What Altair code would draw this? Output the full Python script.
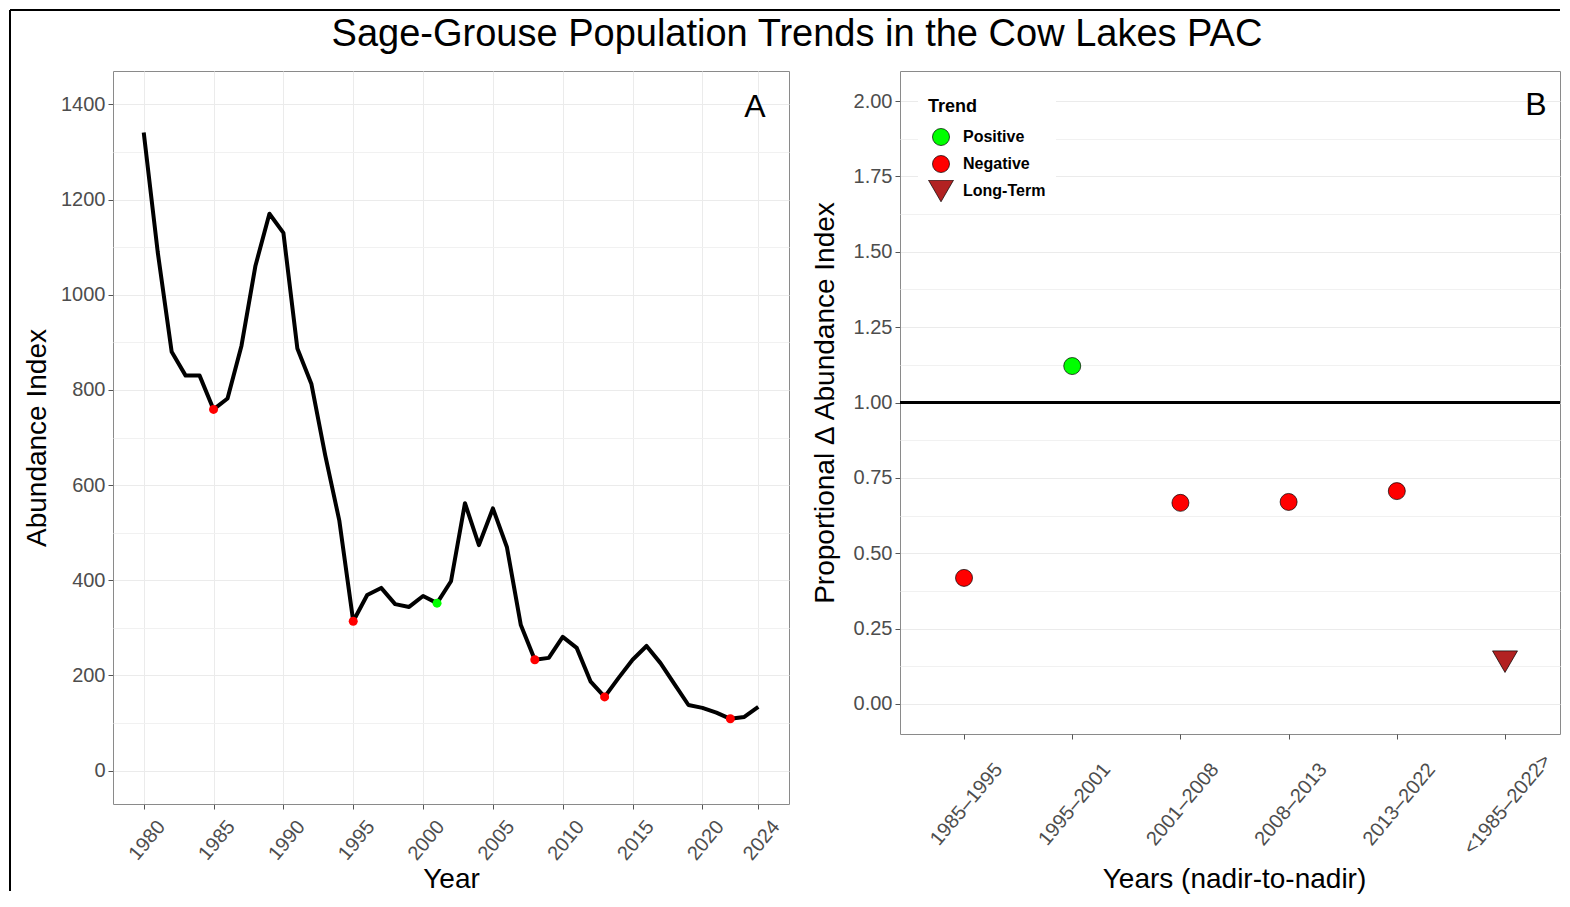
import altair as alt
import pandas as pd

# ---------------- data ----------------
years = list(range(1980, 2025))
abundance = [1341, 1090, 880, 830, 830, 759, 782, 893, 1061, 1170,
             1130, 887, 813, 662, 526, 314, 369, 384, 350, 344,
             367, 352, 398, 562, 474, 551, 470, 306, 233, 237,
             281, 258, 187, 155, 195, 233, 262, 226, 182, 138,
             132, 122, 109, 113, 134]

nadir_years = [1985, 1995, 2001, 2008, 2013, 2022]
nadir_trend = ["Negative", "Negative", "Positive", "Negative", "Negative", "Negative"]

periods = ["1985–1995", "1995–2001", "2001–2008", "2008–2013", "2013–2022", "<1985–2022>"]
prop_change = [0.418, 1.121, 0.667, 0.670, 0.706, 0.140]
period_trend = ["Negative", "Positive", "Negative", "Negative", "Negative", "Long-Term"]

baseline = [1.0]

trend_order = ["Positive", "Negative", "Long-Term"]
trend_colors = ["#00ff00", "#ff0000", "#b22222"]
# circles, and a larger downward triangle (custom path in the unit square)
trend_shapes = ["circle", "circle", "M-1.47,-1.27L1.47,-1.27L0,1.27Z"]

title_text = "Sage-Grouse Population Trends in the Cow Lakes PAC"

x_ticks_left = [1980, 1982.5, 1985, 1987.5, 1990, 1992.5, 1995, 1997.5, 2000, 2002.5,
                2005, 2007.5, 2010, 2012.5, 2015, 2017.5, 2020, 2022, 2024]
y_ticks_left = [0, 100, 200, 300, 400, 500, 600, 700, 800, 900, 1000, 1100, 1200, 1300, 1400]
y_ticks_right = [0, 0.125, 0.25, 0.375, 0.5, 0.625, 0.75, 0.875, 1.0, 1.125, 1.25,
                 1.375, 1.5, 1.625, 1.75, 1.875, 2.0]

# ---------------- layout / style ----------------
FONT = "Liberation Sans"
W_L, H_L = 676, 733
W_R, H_R = 660, 663
SPACING = 111
GRID_MAJOR = "#ebebeb"
GRID_MINOR = "#f1f1f1"
LABEL_GRAY = "#4d4d4d"

df_line = pd.DataFrame({"Year": years, "Abundance": abundance})
trend_by_year = dict(zip(nadir_years, nadir_trend))
df_pts = df_line[df_line["Year"].isin(nadir_years)].copy()
df_pts["Trend"] = df_pts["Year"].map(trend_by_year)

df_right = pd.DataFrame({"Period": periods, "Prop": prop_change, "Trend": period_trend})
df_base = pd.DataFrame({"y": baseline})


def cond(test, a, b):
    return {"condition": {"test": test, "value": a}, "value": b}


minor_x_left = "!(datum.value % 5 == 0 || datum.value == 2024)"
minor_y_left = "datum.value % 200 != 0"
minor_y_right = "(datum.value * 4) % 1 != 0"

x_left = alt.X(
    "Year:Q",
    scale=alt.Scale(domain=[1977.8, 2026.2], nice=False, zero=False),
    axis=alt.Axis(
        values=x_ticks_left,
        labelExpr=f"{minor_x_left} ? '' : format(datum.value, 'd')",
        title="Year",
        labelAngle=-50, labelAlign="center", labelBaseline="middle",
        labelOffset=3, labelPadding=31,
        gridColor=cond(minor_x_left, GRID_MINOR, GRID_MAJOR),
        tickOpacity=cond(minor_x_left, 0, 1),
        titleX=W_L / 2, titleY=75, titleBaseline="middle", titleAlign="center",
    ),
)
y_left = alt.Y(
    "Abundance:Q",
    scale=alt.Scale(domain=[-70, 1470], nice=False, zero=False),
    axis=alt.Axis(
        values=y_ticks_left,
        labelExpr=f"{minor_y_left} ? '' : format(datum.value, 'd')",
        title="Abundance Index",
        gridColor=cond(minor_y_left, GRID_MINOR, GRID_MAJOR),
        tickOpacity=cond(minor_y_left, 0, 1),
        titleX=-76, titleY=H_L / 2, titleBaseline="middle", titleAlign="center",
        labelPadding=3,
    ),
)

line = alt.Chart(df_line).mark_line(color="black", strokeWidth=4, strokeJoin="round").encode(
    x=x_left, y=y_left
)
pts_left = alt.Chart(df_pts).mark_circle(size=81, opacity=1).encode(
    x="Year:Q", y="Abundance:Q",
    color=alt.Color("Trend:N", scale=alt.Scale(domain=trend_order, range=trend_colors), legend=None),
)
label_a = alt.Chart(pd.DataFrame({"t": ["A"]})).mark_text(
    font=FONT, fontSize=32, color="black", align="center", baseline="middle"
).encode(text="t:N", x=alt.value(642), y=alt.value(36))
title_mark = alt.Chart(pd.DataFrame({"t": [title_text]})).mark_text(
    font=FONT, fontSize=38, color="black", align="center", baseline="middle"
).encode(text="t:N", x=alt.value(684), y=alt.value(-36))
frame_left = alt.Chart(pd.DataFrame({"k": [0]})).mark_rule(color="black", strokeWidth=2).encode(
    x=alt.value(-103), y=alt.value(-61), y2=alt.value(820)
)
frame_top = alt.Chart(pd.DataFrame({"k": [0]})).mark_rule(color="black", strokeWidth=2).encode(
    x=alt.value(-103), x2=alt.value(W_L + SPACING + W_R), y=alt.value(-61)
)

left = alt.layer(line, pts_left, label_a, title_mark, frame_left, frame_top).properties(
    width=W_L, height=H_L
)

# ---------------- right panel ----------------
x_right = alt.X(
    "Period:N",
    sort=periods,
    scale=alt.Scale(type="point", padding=0.55, align=0.538),
    axis=alt.Axis(
        title="Years (nadir-to-nadir)",
        labelAngle=-50, labelAlign="center", labelBaseline="middle",
        labelOffset=2, labelPadding=65,
        gridColor=GRID_MAJOR,
        titleX=334, titleY=145, titleBaseline="middle", titleAlign="center",
    ),
)
y_right = alt.Y(
    "Prop:Q",
    scale=alt.Scale(domain=[-0.1, 2.1], nice=False, zero=False),
    axis=alt.Axis(
        values=y_ticks_right,
        labelExpr=f"{minor_y_right} ? '' : format(datum.value, '.2f')",
        title="Proportional Δ Abundance Index",
        gridColor=cond(minor_y_right, GRID_MINOR, GRID_MAJOR),
        tickOpacity=cond(minor_y_right, 0, 1),
        titleX=-75, titleY=H_R / 2, titleBaseline="middle", titleAlign="center",
        labelPadding=3,
    ),
)

rule = alt.Chart(df_base).mark_rule(color="black", strokeWidth=3).encode(y="y:Q")

legend = alt.Legend(
    title="Trend", orient="none", legendX=18, legendY=17, padding=10,
    fillColor="white", titleFontSize=18, titleFontWeight="bold", titleFont=FONT,
    titleColor="black", titlePadding=10,
    labelFontSize=16, labelFontWeight="bold", labelFont=FONT, labelColor="black",
    labelOffset=13, rowPadding=5, clipHeight=22, symbolOffset=4,
    symbolSize=289, symbolStrokeColor="black", symbolStrokeWidth=0.7,
)
pts_right = alt.Chart(df_right).mark_point(
    filled=True, opacity=1, stroke="black", strokeWidth=0.7, size=289
).encode(
    x=x_right,
    y=y_right,
    color=alt.Color("Trend:N", scale=alt.Scale(domain=trend_order, range=trend_colors), legend=legend),
    shape=alt.Shape("Trend:N", scale=alt.Scale(domain=trend_order, range=trend_shapes), legend=legend),
)
label_b = alt.Chart(pd.DataFrame({"t": ["B"]})).mark_text(
    font=FONT, fontSize=32, color="black", align="center", baseline="middle"
).encode(text="t:N", x=alt.value(636), y=alt.value(34))

right = alt.layer(rule, pts_right, label_b).properties(width=W_R, height=H_R)

chart = alt.hconcat(left, right, spacing=SPACING, bounds="flush").resolve_scale(
    color="independent", shape="independent"
).resolve_legend(
    color="independent", shape="independent"
).properties(padding=0).configure(
    font=FONT,
).configure_view(
    stroke="#8a8a8a", strokeWidth=1
).configure_axis(
    labelFont=FONT, labelFontSize=20, labelColor=LABEL_GRAY,
    titleFont=FONT, titleFontSize=28, titleColor="black", titleFontWeight="normal",
    tickColor="#555555", tickSize=5, tickWidth=1,
    domain=False, gridWidth=1,
)

chart.save("out.html", embed_options={"renderer": "svg", "actions": False})
